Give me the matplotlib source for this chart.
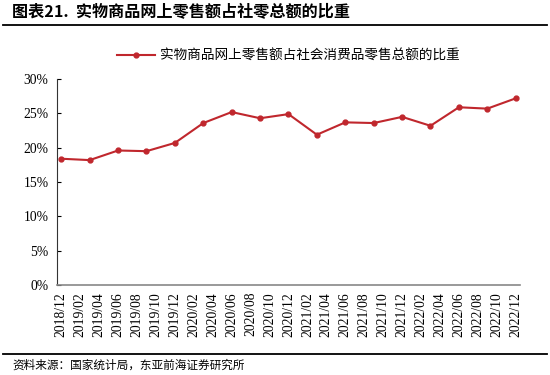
import matplotlib.pyplot as plt
from matplotlib.lines import Line2D

# 季度数据 (月份序号以 2018/12 为 0)
months = [0, 3, 6, 9, 12, 15, 18, 21, 24, 27, 30, 33, 36, 39, 42, 45, 48]
share = [18.4, 18.2, 19.6, 19.5, 20.7, 23.6, 25.2, 24.3, 24.9, 21.9,
         23.7, 23.6, 24.5, 23.2, 25.9, 25.7, 27.2]

# x轴标签 每两个月
tick_pos = list(range(0, 49, 2))
tick_labels = ['2018/12', '2019/02', '2019/04', '2019/06', '2019/08', '2019/10',
               '2019/12', '2020/02', '2020/04', '2020/06', '2020/08', '2020/10',
               '2020/12', '2021/02', '2021/04', '2021/06', '2021/08', '2021/10',
               '2021/12', '2022/02', '2022/04', '2022/06', '2022/08', '2022/10',
               '2022/12']
y_ticks = [0, 5, 10, 15, 20, 25, 30]

plt.rcParams['font.family'] = ['Noto Sans CJK SC', 'DejaVu Sans']
red = '#C0272D'

fig = plt.figure(figsize=(5.5, 3.75), dpi=100)
ax = fig.add_axes([0.1036, 0.24, 0.8418, 0.549])

ax.plot(months, share, '-o', color=red, lw=1.5, ms=3.5,
        label='实物商品网上零售额占社会消费品零售总额的比重')

ax.set_xlim(-0.45, 48.45)
ax.set_ylim(0, 30)
ax.set_xticks(tick_pos)
ax.set_xticklabels(tick_labels, rotation=90, family='Liberation Serif', fontsize=9.8)
ax.set_yticks(y_ticks)
ax.set_yticklabels([f'{v}%' for v in y_ticks], family='Liberation Serif', fontsize=9.8)
ax.tick_params(axis='x', length=0, pad=5)
ax.tick_params(axis='y', length=3, direction='in', pad=6)

for s in ['top', 'right']:
    ax.spines[s].set_visible(False)
ax.spines['left'].set_color('#333333')
ax.spines['bottom'].set_color('#888888')
ax.spines['bottom'].set_linewidth(1.2)

leg = ax.legend(loc='lower center', bbox_to_anchor=(0.5, 1.02), frameon=False,
                fontsize=9.8, handlelength=2.8, handletextpad=0.4)

# 标题和来源
fig.text(0.022, 0.968, '图表21.  实物商品网上零售额占社零总额的比重', fontsize=11.6,
         fontweight='bold', va='center', ha='left')
fig.add_artist(Line2D([0.005, 0.995], [0.933, 0.933], color='black', lw=1.3))
fig.add_artist(Line2D([0.005, 0.995], [0.057, 0.057], color='black', lw=1.3))
fig.text(0.022, 0.025, '资料来源：国家统计局，东亚前海证券研究所', fontsize=8.4,
         va='center', ha='left')

fig.savefig('out.png', dpi=100)
